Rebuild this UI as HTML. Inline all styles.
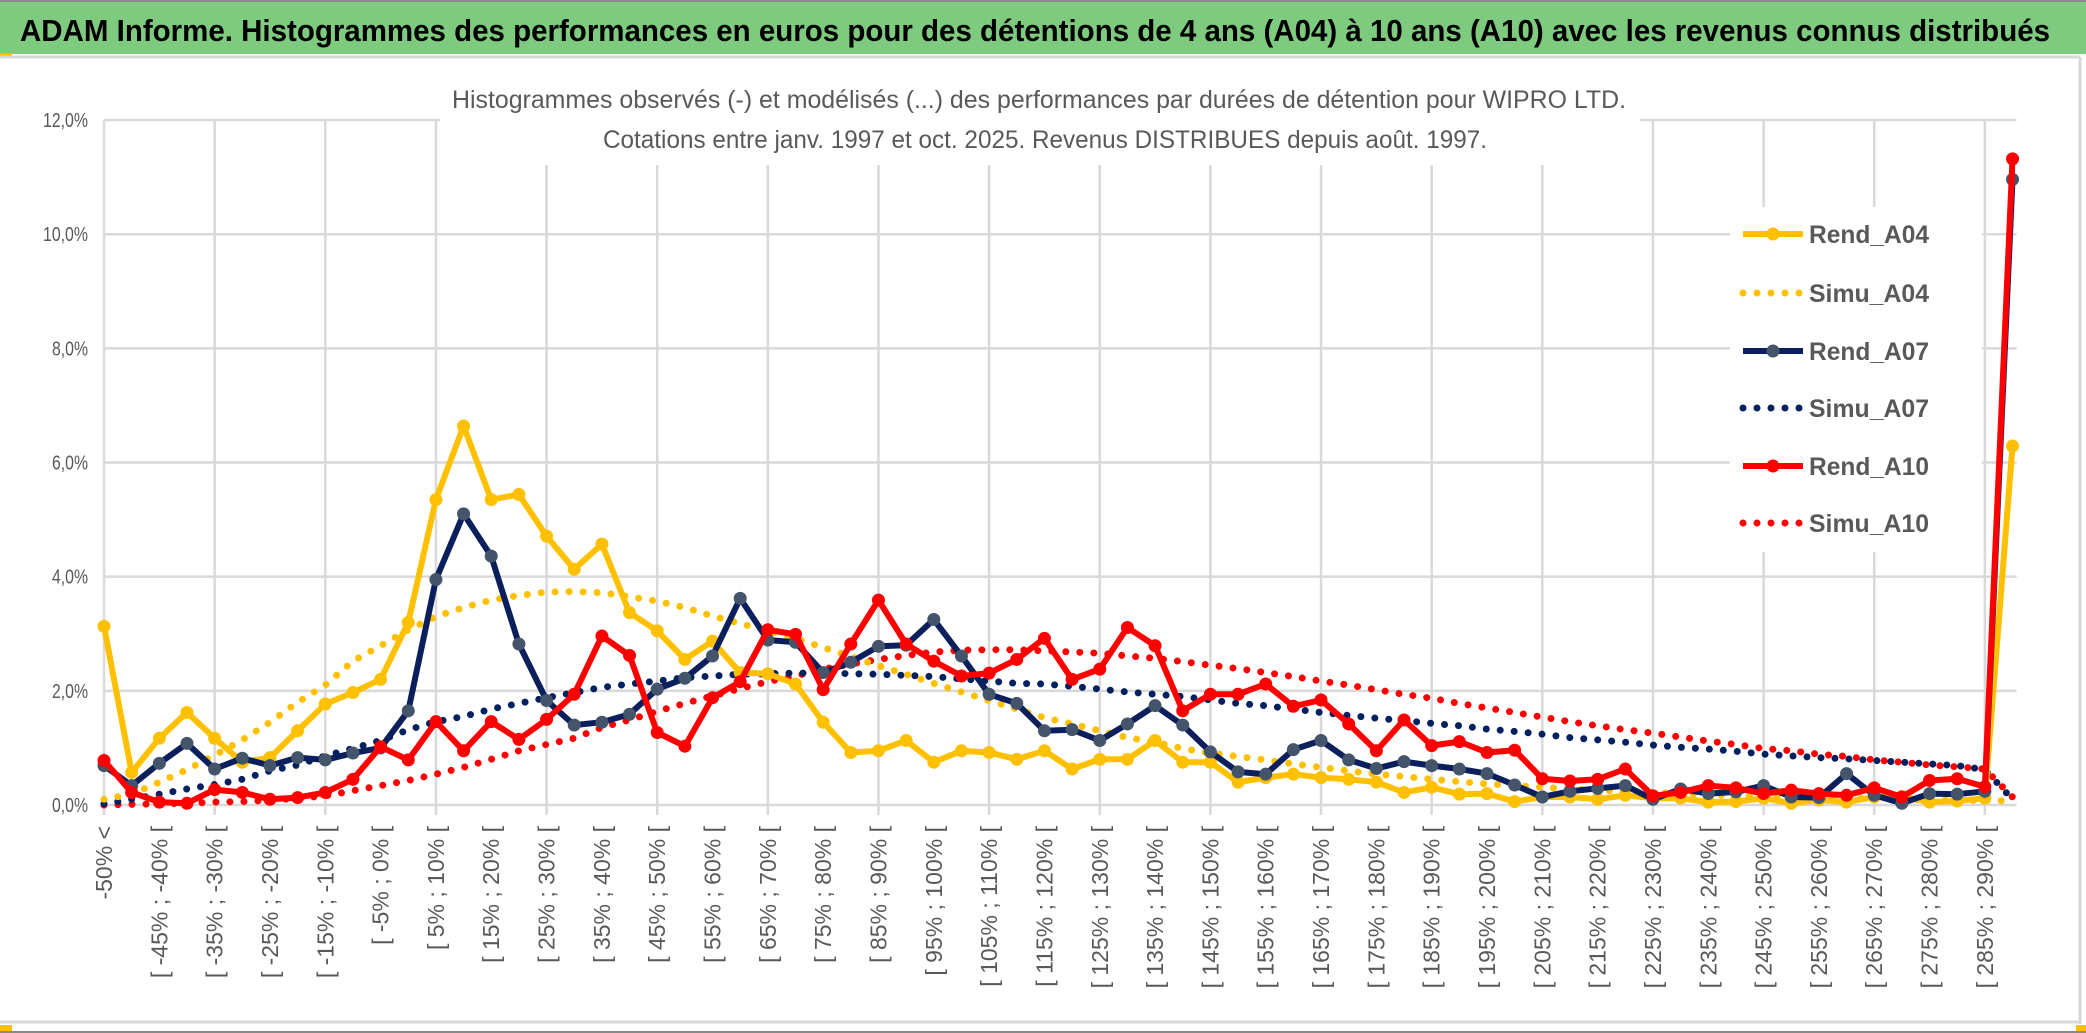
<!DOCTYPE html>
<html><head><meta charset="utf-8"><style>
html,body{margin:0;padding:0;background:#fff;}
svg{display:block;}
text{font-family:"Liberation Sans Narrow","Liberation Sans",sans-serif;}
</style></head><body>
<svg id="chart" width="2086" height="1033" viewBox="0 0 2086 1033" xmlns="http://www.w3.org/2000/svg">
<rect x="0" y="0" width="2086" height="1033" fill="#fff"/>
<rect x="0" y="0" width="2086" height="54" fill="#7ECA7E"/>
<line x1="0" y1="1" x2="2086" y2="1" stroke="#8a8a8a" stroke-width="2"/>
<text x="20" y="41" font-size="31" font-weight="bold" fill="#000" textLength="2030" lengthAdjust="spacingAndGlyphs">ADAM Informe. Histogrammes des performances en euros pour des détentions de 4 ans (A04) à 10 ans (A10) avec les revenus connus distribués</text>
<rect x="0" y="53" width="12" height="4" fill="#FFC000"/>
<line x1="0" y1="57" x2="2080" y2="57" stroke="#d9d9d9" stroke-width="3"/>
<line x1="2080" y1="57" x2="2080" y2="1024" stroke="#d9d9d9" stroke-width="3"/>
<line x1="0" y1="1022" x2="2080" y2="1022" stroke="#d9d9d9" stroke-width="3"/>
<rect x="0" y="1025" width="12" height="6" fill="#FFC000"/>
<rect x="2076" y="1025" width="10" height="6" fill="#FFC000"/>
<line x1="0" y1="1032" x2="2086" y2="1032" stroke="#8a8a8a" stroke-width="2"/>
<g id="grid"></g>
<rect x="440" y="70" width="1200" height="95" fill="#fff"/>
<text x="1039" y="108" font-size="25" fill="#595959" text-anchor="middle" textLength="1174" lengthAdjust="spacingAndGlyphs">Histogrammes observés (-) et modélisés (...) des performances par durées de détention pour WIPRO LTD.</text>
<text x="1045" y="148" font-size="25" fill="#595959" text-anchor="middle" textLength="884" lengthAdjust="spacingAndGlyphs">Cotations entre janv. 1997 et oct. 2025. Revenus DISTRIBUES depuis août. 1997.</text>
<g id="axes"></g>
<g id="series"></g>
<g id="legend"></g>
</svg>
<script>
const rendA04 = [3.13,0.57,1.17,1.62,1.17,0.75,0.83,1.3,1.77,1.97,2.2,3.2,5.35,6.64,5.35,5.44,4.71,4.13,4.57,3.37,3.05,2.55,2.87,2.32,2.3,2.12,1.45,0.92,0.95,1.13,0.75,0.95,0.92,0.8,0.95,0.63,0.8,0.8,1.13,0.75,0.75,0.4,0.48,0.54,0.48,0.45,0.4,0.22,0.31,0.19,0.2,0.06,0.14,0.14,0.1,0.17,0.12,0.12,0.05,0.06,0.12,0.03,0.09,0.05,0.14,0.15,0.05,0.07,0.12,6.29];
const simuA04 = [0.1,0.19,0.4,0.62,0.87,1.14,1.45,1.8,2.1,2.52,2.79,3.07,3.3,3.46,3.59,3.67,3.73,3.74,3.72,3.65,3.57,3.46,3.31,3.18,3.05,2.92,2.76,2.6,2.44,2.29,2.13,1.98,1.83,1.68,1.53,1.42,1.3,1.18,1.1,0.99,0.91,0.85,0.79,0.72,0.66,0.6,0.54,0.5,0.45,0.41,0.37,0.34,0.31,0.28,0.26,0.24,0.22,0.2,0.18,0.16,0.15,0.14,0.13,0.12,0.11,0.1,0.09,0.08,0.08,0.07];
const rendA07 = [0.69,0.34,0.73,1.08,0.63,0.82,0.69,0.83,0.79,0.91,1.0,1.65,3.95,5.1,4.36,2.82,1.83,1.4,1.45,1.59,2.03,2.22,2.61,3.62,2.89,2.85,2.32,2.5,2.78,2.8,3.25,2.61,1.94,1.78,1.3,1.32,1.13,1.42,1.74,1.4,0.93,0.58,0.54,0.97,1.13,0.79,0.64,0.76,0.69,0.63,0.55,0.35,0.14,0.24,0.29,0.34,0.1,0.28,0.2,0.23,0.34,0.14,0.13,0.55,0.17,0.03,0.2,0.19,0.24,10.96];
const simuA07 = [0.02,0.1,0.19,0.28,0.36,0.45,0.6,0.7,0.86,0.99,1.13,1.32,1.46,1.55,1.68,1.78,1.88,1.97,2.06,2.12,2.17,2.23,2.26,2.29,2.3,2.31,2.31,2.3,2.29,2.27,2.25,2.21,2.17,2.13,2.12,2.08,2.03,1.98,1.94,1.9,1.84,1.78,1.74,1.68,1.62,1.57,1.52,1.48,1.43,1.39,1.33,1.29,1.24,1.18,1.14,1.1,1.05,1.01,0.98,0.94,0.89,0.86,0.83,0.81,0.78,0.75,0.72,0.69,0.62,0.1];
const rendA10 = [0.78,0.22,0.05,0.03,0.27,0.22,0.1,0.13,0.22,0.45,1.02,0.79,1.46,0.95,1.46,1.15,1.5,1.94,2.96,2.62,1.27,1.03,1.88,2.16,3.07,2.99,2.02,2.82,3.59,2.82,2.52,2.26,2.31,2.55,2.92,2.2,2.38,3.11,2.79,1.65,1.94,1.94,2.12,1.73,1.84,1.42,0.95,1.49,1.04,1.11,0.92,0.96,0.46,0.42,0.45,0.63,0.16,0.22,0.34,0.3,0.2,0.26,0.2,0.17,0.3,0.14,0.43,0.46,0.32,11.32];
const simuA10 = [0.0,0.01,0.02,0.03,0.05,0.06,0.08,0.12,0.16,0.25,0.34,0.43,0.54,0.66,0.8,0.95,1.06,1.17,1.36,1.49,1.64,1.78,1.91,2.04,2.16,2.26,2.38,2.47,2.55,2.62,2.68,2.71,2.72,2.72,2.7,2.68,2.66,2.61,2.57,2.51,2.45,2.39,2.32,2.25,2.17,2.1,2.02,1.94,1.87,1.78,1.7,1.62,1.54,1.46,1.39,1.32,1.26,1.19,1.12,1.06,0.99,0.95,0.89,0.85,0.79,0.75,0.7,0.67,0.63,0.14];
const yTicks = [0,2,4,6,8,10,12];
const yTickLabels = ["0,0%","2,0%","4,0%","6,0%","8,0%","10,0%","12,0%"];
const legendNames = ["Rend_A04","Simu_A04","Rend_A07","Simu_A07","Rend_A10","Simu_A10"];

const categories = [];
categories.push("-50% <");
for (let lo = -50; lo < 290; lo += 5) categories.push("[ " + lo + "% ; " + (lo + 5) + "% [");
categories.push("290% >");

const NS = "http://www.w3.org/2000/svg";
const X0 = 104, STEP = 27.66, Y0 = 805, YPER = 57.08;
function xPos(i){ return X0 + i * STEP; }
function yPos(v){ return Y0 - v * YPER; }
function mk(tag, attrs, parent){
  const el = document.createElementNS(NS, tag);
  for (const k in attrs) el.setAttribute(k, attrs[k]);
  parent.appendChild(el);
  return el;
}
const grid = document.getElementById('grid');
const axes = document.getElementById('axes');
const seriesG = document.getElementById('series');
const legend = document.getElementById('legend');
const xRight = xPos(categories.length - 1) + 4;

yTicks.forEach((t, k) => {
  const l = mk('line', {x1: X0, x2: xRight, y1: yPos(t), y2: yPos(t), stroke: '#d9d9d9', 'stroke-width': 2.5}, grid);
  
  
  const lab = yTickLabels[k];
  const tx = mk('text', {x: 88, y: yPos(t) + 7, 'font-size': 20, fill: '#595959', 'text-anchor': 'end', textLength: lab.length * 9, lengthAdjust: 'spacingAndGlyphs'}, axes);
  tx.textContent = lab;
  
  
});
categories.forEach((c, i) => {
  if (i % 4 === 0) {
    const l = mk('line', {x1: xPos(i), x2: xPos(i), y1: yPos(12), y2: Y0 + 10, stroke: '#d9d9d9', 'stroke-width': 2.5}, grid);
    
    
  }
  if (i % 2 === 0) {
    const x = xPos(i) + 8, y = 826;
    const tx = mk('text', {x: x, y: y, 'font-size': 23, fill: '#595959', 'text-anchor': 'end', transform: 'rotate(-90 ' + x + ' ' + y + ')', style: 'font-family:"Liberation Sans",sans-serif'}, axes);
    tx.textContent = c;
    
    
  }
});

function pts(arr){ return arr.map((v, i) => xPos(i).toFixed(1) + ',' + yPos(v).toFixed(1)).join(' '); }
function dotted(arr, color, name){
  const p = mk('polyline', {points: pts(arr), fill: 'none', stroke: color, 'stroke-width': 7, 'stroke-linecap': 'round', 'stroke-dasharray': '0 14'}, seriesG);
  
  
}
function solid(arr, color, mcolor, name){
  const p = mk('polyline', {points: pts(arr), fill: 'none', stroke: color, 'stroke-width': 6, 'stroke-linejoin': 'round'}, seriesG);
  
  
  arr.forEach((v, i) => {
    const c = mk('circle', {cx: xPos(i), cy: yPos(v), r: 6.5, fill: mcolor}, seriesG);
    
    
  });
}
dotted(simuA10, '#FF0000', 'simu-a10-line');
dotted(simuA07, '#002060', 'simu-a07-line');
dotted(simuA04, '#FFC000', 'simu-a04-line');
solid(rendA04, '#FFC000', '#FFC000', 'rend-a04-line');
solid(rendA07, '#0B1F5C', '#44546A', 'rend-a07-line');
solid(rendA10, '#FF0000', '#FF0000', 'rend-a10-line');

// legend
const lb = mk('rect', {x: 1730, y: 207, width: 252, height: 345, fill: '#fff'}, legend);


const legColors = ['#FFC000','#FFC000','#0B1F5C','#002060','#FF0000','#FF0000'];
const legMarker = ['#FFC000',null,'#44546A',null,'#FF0000',null];
const legY = [234,293,351,408,466,523];
legendNames.forEach((n, k) => {
  const y = legY[k];
  if (legMarker[k]) {
    const l = mk('line', {x1: 1743, x2: 1803, y1: y, y2: y, stroke: legColors[k], 'stroke-width': 6}, legend);
    
    
    const c = mk('circle', {cx: 1773, cy: y, r: 6.5, fill: legMarker[k]}, legend);
    
    
  } else {
    const l = mk('line', {x1: 1743, x2: 1803, y1: y, y2: y, stroke: legColors[k], 'stroke-width': 7, 'stroke-linecap': 'round', 'stroke-dasharray': '0 14'}, legend);
    
    
  }
  const t = mk('text', {x: 1809, y: y + 9, 'font-size': 25, 'font-weight': 'bold', fill: '#595959', textLength: 120, lengthAdjust: 'spacingAndGlyphs', style: 'font-family:"Liberation Sans",sans-serif'}, legend);
  t.textContent = n;
  
  
});
</script>
</body></html>
